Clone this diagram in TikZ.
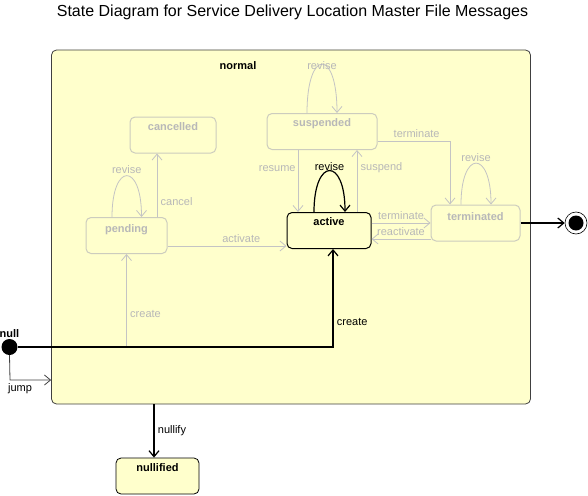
\documentclass[tikz,border=0pt]{standalone}
\usepackage{fontspec}
\setmainfont{Liberation Sans}
\usetikzlibrary{arrows.meta}
\definecolor{notefill}{RGB}{255,255,204}
\definecolor{dimline}{RGB}{196,196,196}
\definecolor{dimtext}{RGB}{184,184,184}
\definecolor{dimedge}{RGB}{204,204,190}

\begin{document}
\begin{tikzpicture}[x=1pt,y=1pt,>={Straight Barb[length=6pt,width=10pt]},
		font=\fontsize{11}{13}\selectfont,
		livestate/.style={rectangle,rounded corners=5pt,draw=black,line width=1pt,fill=notefill,
			font=\fontsize{11}{13}\selectfont\bfseries,text height=11pt,text depth=21pt,inner ysep=2pt},
		dimstate/.style={livestate,draw=dimedge,text=dimtext},
		lowtext/.style={text height=13pt,text depth=19pt},
		dimarrow/.style={->,color=dimline,line width=0.8pt,text=dimtext},
		livearrow/.style={->,color=black,line width=1.2pt}]
	\useasboundingbox (0,0) rectangle (588,-495);
	\node (title) at (292.5,-12) {\fontsize{16}{18}\selectfont State Diagram for Service Delivery Location Master File Messages};

	% composite state
	\node (normal) [rectangle,rounded corners=5pt,draw=black!75,line width=0.8pt,fill=notefill,
		minimum width=479pt,minimum height=354pt] at (291,-227) {};
	\node (normaltag) [font=\fontsize{11}{13}\selectfont\bfseries] at (238,-66) {normal};

	% states
	\node (cancelled) [dimstate,minimum width=86pt] at (173,-135) {cancelled};
	\node (suspended) [dimstate,minimum width=110pt] at (322,-131.5) {suspended};
	\node (pending) [dimstate,lowtext,minimum width=81pt] at (126.5,-235.5) {pending};
	\node (active) [livestate,minimum width=84pt] at (329,-230.5) {active};
	\node (terminated) [dimstate,lowtext,minimum width=89pt] at (475.5,-223) {terminated};
	\node (nullified) [livestate,minimum width=83pt,line width=0.8pt] at (157.5,-476) {nullified};
	\node (null) [circle,fill=black,minimum size=16pt,inner sep=0pt,
		label={[font=\fontsize{11}{13}\selectfont\bfseries,inner sep=1pt]above:null}] at (9.5,-347) {};
	\node (final) [circle,draw=black,fill=white,minimum size=22pt,inner sep=0pt,line width=0.6pt] at (576,-223) {};
	\fill (final.center) circle (7.5pt);

	\coordinate (createfork) at (pending.south |- null);
	\coordinate (jumpbend) at (10,-380);

	% self transitions
	\draw[dimarrow] ([xshift=-14.5pt]pending.north) .. controls +(0,55) and +(0,55) .. node [above,inner sep=2pt] {revise} ([xshift=15pt]pending.north);
	\draw[dimarrow] ([xshift=-15pt]suspended.north) .. controls +(0,65) and +(0,65) .. node [inner sep=0pt,yshift=-1pt] {revise} ([xshift=15pt]suspended.north);
	\draw[dimarrow] ([xshift=-14.5pt]terminated.north) .. controls +(0,55) and +(0,55) .. node [above,inner sep=1pt] {revise} ([xshift=15.5pt]terminated.north);
	\draw[livearrow] ([xshift=-15pt]active.north) .. controls +(0,55) and +(0,55) .. node [above,inner sep=0pt] {revise} ([xshift=16pt]active.north);

	% transitions inside normal
	\path[dimarrow] ([xshift=30.5pt]pending.north) edge node [pos=0.24,right] {cancel} ([xshift=30.5pt]pending.north |- cancelled.south);
	\path[dimarrow] ([yshift=-10.5pt]pending.east) edge node [pos=0.62,above] {activate} ([yshift=-10.5pt]pending.east -| active.west);
	\path[dimarrow] ([xshift=-24pt]suspended.south) edge node [pos=0.3,left,inner sep=2pt] {resume} ([xshift=-24pt]suspended.south |- active.north);
	\path[dimarrow] ([xshift=35pt]suspended.south |- active.north) edge node [pos=0.71,right] {suspend} ([xshift=35pt]suspended.south);
	\draw[dimarrow] ([yshift=-9.5pt]suspended.east) -| node [pos=0.27,above] {terminate} ([xshift=-25.5pt]terminated.north);
	\path[dimarrow] ([yshift=7.5pt]active.east) edge node [above] {terminate} ([yshift=7.5pt]active.east -| terminated.west);
	\path[dimarrow] ([yshift=-8.5pt]active.east -| terminated.west) edge node [above] {reactivate} ([yshift=-8.5pt]active.east);
	\path[dimarrow] (createfork) edge node [pos=0.35,right] {create} (pending.south);

	% transitions outside
	\draw[livearrow] (null.east) -| node [pos=0.63,right] {create} ([xshift=4pt]active.south);
	\draw[->,draw=black!75,line width=0.8pt] (null.south) -- (jumpbend) node [below,xshift=10pt] {jump} -- (jumpbend -| normal.west);
	\draw[livearrow] ([xshift=-3.5pt]nullified.north |- normal.south) -- node [right] {nullify} ([xshift=-3.5pt]nullified.north);
	\path[livearrow] (terminated) edge (final);
\end{tikzpicture}
\end{document}
